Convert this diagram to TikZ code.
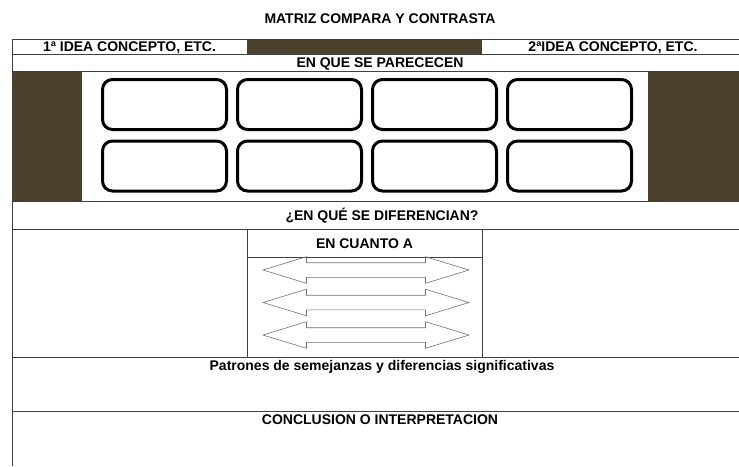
\documentclass[tikz,border=0pt]{standalone}
\usepackage{fontspec}
\setmainfont{Liberation Sans}
\usepackage{tikz}
\usetikzlibrary{shapes.arrows,positioning}
\definecolor{cafe}{RGB}{75,65,44}

\begin{document}
\begin{tikzpicture}[x=1pt, y=-1pt, node distance = 8.5pt and 8pt,
                    auto, caja/.style = {draw, line width=3pt, rounded corners=10pt, minimum width=124pt, minimum height=50pt},
                    txt/.style = {font=\fontsize{14}{16}\selectfont\bfseries, inner sep=0pt, text height=10pt, text depth=0pt},
                    flecha/.style = {double arrow, draw=black!55, line width=0.6pt, text height=7pt, text depth=7pt, minimum height=206pt,
                                     double arrow head extend=6pt, double arrow tip angle=34, inner sep=0pt},
                    linea/.style = {draw=black!75, line width=0.8pt}]
\useasboundingbox (0,0) rectangle (739,466);
\fill[cafe] (247,39) rectangle (482,54);
\fill[cafe] (12,71) rectangle (82,201);
\fill[cafe] (648,71) rectangle (751,201);
\foreach \y in {39,54,71,201,229,357,411}
  \draw[linea] (12,\y) -- (751,\y);
\draw[linea] (12,39) -- (12,466);
\draw[linea] (247,229) -- (247,357) (482,229) -- (482,357) (247,257) -- (482,257);
\node[txt] (tit) at (380,18) {MATRIZ COMPARA Y CONTRASTA};
\node[txt] (id1) at (129.5,46.5) {1ª IDEA CONCEPTO, ETC.};
\node[txt] (id2) at (613,46.5) {2ªIDEA CONCEPTO, ETC.};
\node[txt] (par) at (380,62.5) {EN QUE SE PARECECEN};
\node[txt] (dif) at (382,215) {¿EN QUÉ SE DIFERENCIAN?};
\node[txt] (cua) at (364.5,243) {EN CUANTO A};
\node[txt] (pat) at (382,365) {Patrones de semejanzas y diferencias significativas};
\node[txt] (con) at (380,419) {CONCLUSION O INTERPRETACION};
\begin{scope}
    \node[caja] (b1) at (164.5,104.5) {};
\node[caja, right= of b1] (b2) {};
\node[caja, right= of b2] (b3) {};
\node[caja, right= of b3] (b4) {};
\node[caja, below= of b1] (b5) {};
\node[caja, below= of b2] (b6) {};
\node[caja, below= of b3] (b7) {};
\node[caja, below= of b4] (b8) {};
\end{scope}
\node[flecha] (f1) at (366,270) {};
\node[flecha] (f2) at (366,302.5) {};
\node[flecha] (f3) at (366,335) {};
\end{tikzpicture}
\end{document}
